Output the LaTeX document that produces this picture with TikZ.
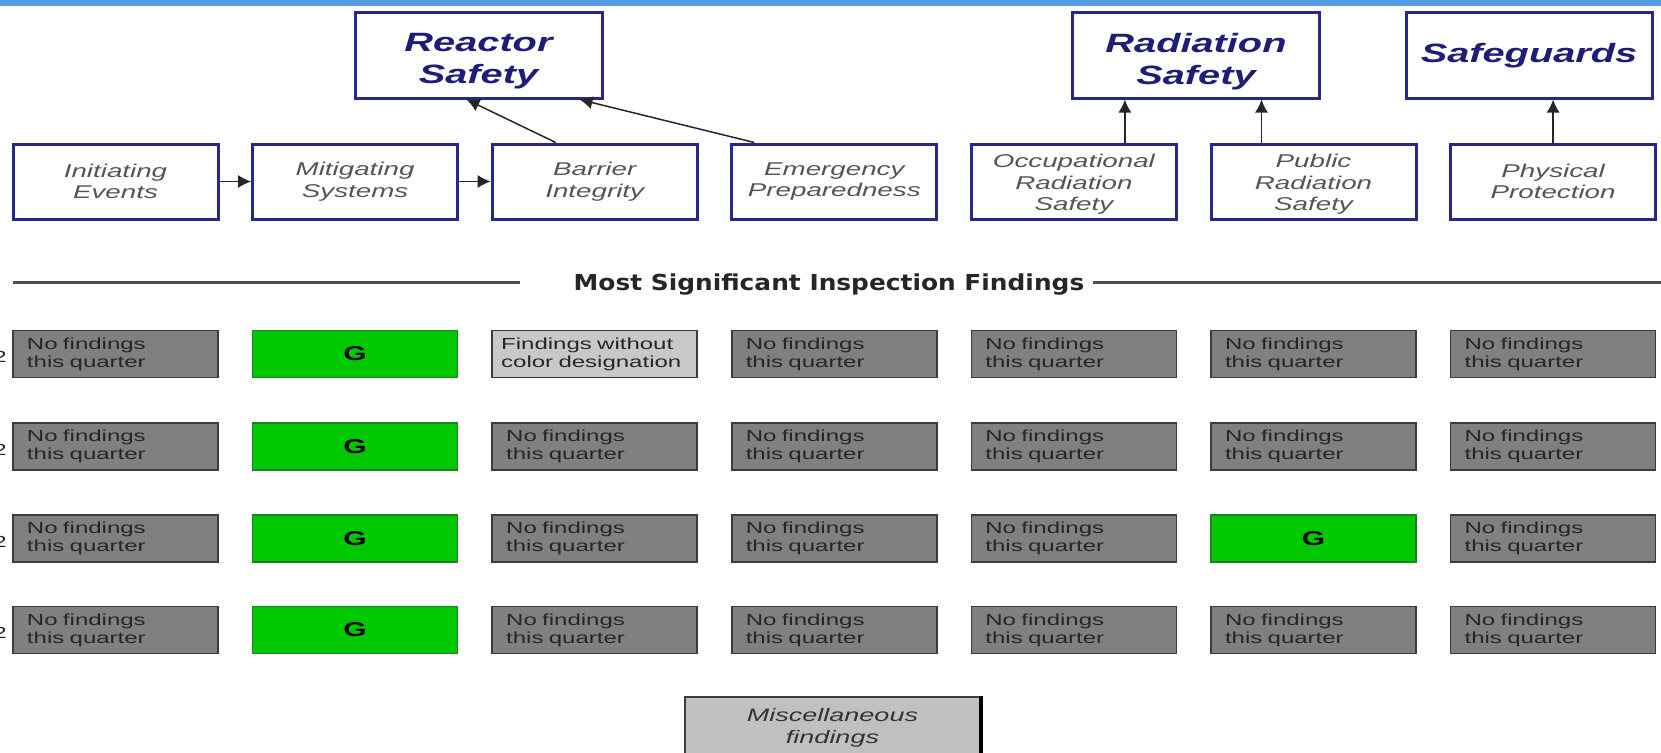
\documentclass[tikz,border=0pt]{standalone}
\usepackage{fontspec}
\setmainfont{Liberation Sans}
\newfontfamily\wide[FakeStretch=1.5]{Liberation Sans}
\newfontfamily\sepfont[FakeStretch=1.13]{DejaVu Sans}
\usetikzlibrary{arrows.meta,calc}
\definecolor{navy}{RGB}{40,40,140}
\definecolor{navytext}{RGB}{30,30,120}
\definecolor{midtext}{RGB}{85,85,85}
\definecolor{fgray}{RGB}{128,128,128}
\definecolor{fborder}{RGB}{60,60,60}
\definecolor{fgreen}{RGB}{0,200,0}
\definecolor{flight}{RGB}{200,200,200}
\definecolor{misc}{RGB}{192,192,192}
\definecolor{topblue}{RGB}{86,156,227}
\definecolor{sepcol}{RGB}{80,80,80}
\tikzset{
  catfont/.style={font=\wide\fontsize{26.5}{32}\selectfont\bfseries\itshape, text=navytext},
  catbox/.style={draw=navy, line width=3pt, fill=white, minimum width=247pt, minimum height=85pt,
    inner sep=0pt, align=center, catfont},
  cattext/.style={inner sep=0pt, align=center, catfont, yshift=-6pt},
  cornerfont/.style={font=\wide\fontsize{18.5}{21.5}\selectfont\itshape, text=midtext},
  cornerbox/.style={draw=navy, line width=3pt, fill=white, minimum width=205pt, minimum height=75pt,
    inner sep=0pt, align=center, cornerfont},
  cornertext/.style={inner sep=0pt, align=center, cornerfont, yshift=-3pt},
  findbox/.style={draw=fborder, line width=1.5pt, fill=fgray, minimum width=205pt, minimum height=47pt,
    inner ysep=0pt, inner xsep=14pt, text width=177pt, align=left, text=black!85,
    font=\wide\fontsize{16}{18}\selectfont},
  lightbox/.style={findbox, fill=flight, inner xsep=9pt, text width=187pt},
  gbox/.style={draw=fborder!50!fgreen, line width=1.5pt, fill=fgreen, minimum width=205pt, minimum height=47pt,
    inner sep=0pt, align=center, text=black,
    font=\wide\fontsize{20}{22}\selectfont\bfseries},
  miscbox/.style={draw=fborder, line width=1.5pt, fill=misc, minimum width=295pt, minimum height=62pt,
    inner sep=0pt, align=center, text=black!80,
    font=\wide\fontsize{18}{22}\selectfont\itshape},
  edgelabel/.style={inner sep=0pt, text=black!85, font=\wide\fontsize{16}{18}\selectfont},
  link/.style={draw=black!85, line width=1.5pt, -{Latex[length=13pt,width=13pt]}},
  sepline/.style={draw=sepcol, line width=3pt}
}
\begin{document}
\begin{tikzpicture}[x=1pt,y=-1pt]
\useasboundingbox (0,0) rectangle (1661,752);
\fill[topblue] (0,0) rectangle (1661,6);

% top categories
\node[catbox, label={[cattext]center:Reactor\\Safety}] (rs)  at (478.5,55.5) {};
\node[catbox, label={[cattext]center:Radiation\\Safety}] (rad) at (1196,55.5) {};
\node[catbox, minimum width=246pt] (sg) at (1529,55.5) {Safeguards};

% cornerstones
\node[cornerbox] (ie)  at (115.5,181.5) {Initiating\\Events};
\node[cornerbox] (ms)  at (355.1,181.5) {Mitigating\\Systems};
\node[cornerbox] (bi)  at (594.7,181.5) {Barrier\\Integrity};
\node[cornerbox] (ep)  at (834.3,181.5) {Emergency\\Preparedness};
\node[cornerbox, label={[cornertext]center:Occupational\\Radiation\\Safety}] (ors) at (1073.9,181.5) {};
\node[cornerbox, label={[cornertext]center:Public\\Radiation\\Safety}] (prs) at (1313.5,181.5) {};
\node[cornerbox] (pp)  at (1553.1,181.5) {Physical\\Protection};

% connectors
\draw[link] (ie.east) -- (ms.west);
\draw[link] (ms.east) -- (bi.west);
\draw[link] ([xshift=-39pt]bi.north) -- ([xshift=-12pt]rs.south);
\draw[link] ([xshift=-80pt]ep.north) -- ([xshift=101pt]rs.south);
\draw[link] ([xshift=51pt]ors.north) -- ([xshift=51pt]ors.north |- rad.south);
\draw[link] ([xshift=-52pt]prs.north) -- ([xshift=-52pt]prs.north |- rad.south);
\draw[link] (pp.north) -- (pp.north |- sg.south);

% separator
\node[inner sep=0pt, anchor=base, text=black!85, font=\sepfont\fontsize{22}{24}\selectfont\bfseries] (sep) at (829,290) {Most Significant Inspection Findings};
\coordinate (sl) at (13,282);
\coordinate (sr) at (1661,282);
\draw[sepline] (sl) -- ([xshift=-54pt]sep.west |- sl);
\draw[sepline] ([xshift=9pt]sep.east |- sr) -- (sr);

% row 1
\node[findbox]  (a1) at (115.5,354) {No findings\\this quarter};
\node[gbox]     (a2) at (355.1,354) {G};
\node[lightbox] (a3) at (594.7,354) {Findings without\\color designation};
\node[findbox]  (a4) at (834.3,354) {No findings\\this quarter};
\node[findbox]  (a5) at (1073.9,354) {No findings\\this quarter};
\node[findbox]  (a6) at (1313.5,354) {No findings\\this quarter};
\node[findbox]  (a7) at (1553.1,354) {No findings\\this quarter};
% row 2
\node[findbox]  (b1) at (115.5,446.5) {No findings\\this quarter};
\node[gbox]     (b2) at (355.1,446.5) {G};
\node[findbox]  (b3) at (594.7,446.5) {No findings\\this quarter};
\node[findbox]  (b4) at (834.3,446.5) {No findings\\this quarter};
\node[findbox]  (b5) at (1073.9,446.5) {No findings\\this quarter};
\node[findbox]  (b6) at (1313.5,446.5) {No findings\\this quarter};
\node[findbox]  (b7) at (1553.1,446.5) {No findings\\this quarter};
% row 3
\node[findbox]  (c1) at (115.5,538.5) {No findings\\this quarter};
\node[gbox]     (c2) at (355.1,538.5) {G};
\node[findbox]  (c3) at (594.7,538.5) {No findings\\this quarter};
\node[findbox]  (c4) at (834.3,538.5) {No findings\\this quarter};
\node[findbox]  (c5) at (1073.9,538.5) {No findings\\this quarter};
\node[gbox]     (c6) at (1313.5,538.5) {G};
\node[findbox]  (c7) at (1553.1,538.5) {No findings\\this quarter};
% row 4
\node[findbox]  (d1) at (115.5,630) {No findings\\this quarter};
\node[gbox]     (d2) at (355.1,630) {G};
\node[findbox]  (d3) at (594.7,630) {No findings\\this quarter};
\node[findbox]  (d4) at (834.3,630) {No findings\\this quarter};
\node[findbox]  (d5) at (1073.9,630) {No findings\\this quarter};
\node[findbox]  (d6) at (1313.5,630) {No findings\\this quarter};
\node[findbox]  (d7) at (1553.1,630) {No findings\\this quarter};

% clipped row labels at the left edge
\node[edgelabel, anchor=east] (q1) at (7,357) {2};
\node[edgelabel, anchor=east] (q2) at (7,449.5) {2};
\node[edgelabel, anchor=east] (q3) at (7,541.5) {2};
\node[edgelabel, anchor=east] (q4) at (7,633) {2};

% miscellaneous
\node[miscbox] (mf) at (832.5,728) {Miscellaneous\\findings};
\draw[black, line width=4pt] (mf.north east) -- (mf.south east);
\end{tikzpicture}
\end{document}
